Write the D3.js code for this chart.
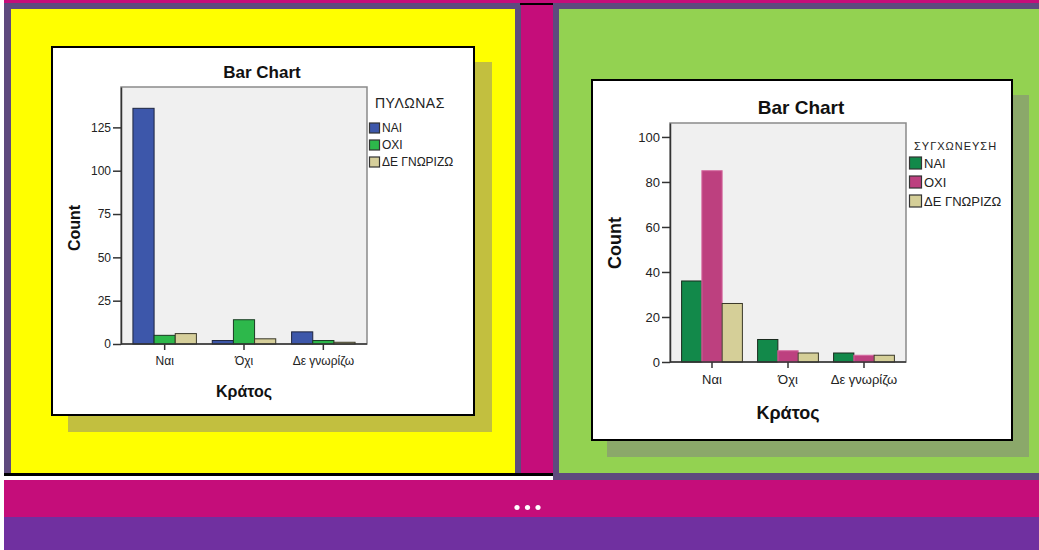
<!DOCTYPE html>
<html>
<head>
<meta charset="utf-8">
<script src="https://cdn.jsdelivr.net/npm/d3@7"></script>
<style>
body { margin: 0; background: #fff; }
svg { display: block; font-family: "Liberation Sans", Arial, sans-serif; }
</style>
</head>
<body>
<script>
// categories on the x axis (Κράτος)
var categories = ["Ναι", "Όχι", "Δε γνωρίζω"];
var seriesNames = ["ΝΑΙ", "ΟΧΙ", "ΔΕ ΓΝΩΡΙΖΩ"];

// left chart: ΠΥΛΩΝΑΣ
var pylonasNai = [136, 2, 7];
var pylonasOxi = [5, 14, 2];
var pylonasDe = [6, 3, 1];
var pylonasTicks = [0, 25, 50, 75, 100, 125];

// right chart: ΣΥΓΧΩΝΕΥΣΗ
var sygxNai = [36, 10, 4];
var sygxOxi = [85, 5, 3];
var sygxDe = [26, 4, 3];
var sygxTicks = [0, 20, 40, 60, 80, 100];

var width = 1039, height = 550;
var svg = d3.select("body").append("svg").attr("width", width).attr("height", height);

// page frame
function box(x, y, w, h, fill) {
  svg.append("rect").attr("x", x).attr("y", y).attr("width", w).attr("height", h).attr("fill", fill);
}
box(4, 0, 1035, 3, "#c50d7a");
box(4, 3, 1035, 6, "#5e4a7e");
box(4, 9, 7, 464, "#5e4a7e");
box(11, 9, 504, 464, "#ffff00");
box(515, 9, 6, 464, "#5e4a7e");
box(521, 5, 32, 468, "#c50d7a");
box(520, 3, 33, 2, "#000");
box(553, 9, 6, 471, "#5e4a7e");
box(559, 9, 480, 464, "#93d251");
box(553, 473, 486, 7, "#5e4a7e");
box(4, 473, 549, 3, "#000");
box(4, 480, 1035, 37, "#c50d7a");
box(4, 517, 1035, 33, "#7030a0");
svg.append("g").selectAll("circle").data([517, 527.5, 538]).enter().append("circle")
  .attr("cx", function(d) { return d; }).attr("cy", 507.5).attr("r", 2.6).attr("fill", "#fff");

function drawChart(o) {
  // shadow + white card
  box(o.x + o.shadow[0], o.y + o.shadow[1], o.w, o.h, o.shadowColor);
  svg.append("rect").attr("x", o.x + 1).attr("y", o.y + 1).attr("width", o.w - 2).attr("height", o.h - 2)
    .attr("fill", "#fff").attr("stroke", "#000").attr("stroke-width", 2);

  var g = svg.append("g");
  var x0 = o.plot[0], x1 = o.plot[1], yTop = o.plot[2], yBot = o.plot[3];

  g.append("rect").attr("x", x0).attr("y", yTop).attr("width", x1 - x0).attr("height", yBot - yTop)
    .attr("fill", "#f0f0f0").attr("stroke", "#8a8a8a").attr("stroke-width", 1.5);

  var y = d3.scaleLinear().domain([0, o.yMax]).range([yBot, yTop]);
  var xb = d3.scaleBand().domain(categories).range([x0 + 4, x1 - 4]).paddingInner(0.2).paddingOuter(0.1);
  var xs = d3.scaleBand().domain(seriesNames).range([0, xb.bandwidth()]);

  var series = seriesNames.map(function(name, i) {
    return { name: name, values: o.values[i], color: o.colors[i], stroke: o.strokes[i] };
  });

  series.forEach(function(s) {
    g.append("g").selectAll("rect").data(categories).enter().append("rect")
      .attr("x", function(d) { return xb(d) + xs(s.name); })
      .attr("y", function(d, i) { return y(s.values[i]); })
      .attr("width", xs.bandwidth())
      .attr("height", function(d, i) { return yBot - y(s.values[i]); })
      .attr("fill", s.color)
      .attr("stroke", s.stroke)
      .attr("stroke-width", 1);
  });

  var yAxis = d3.axisLeft(y).tickValues(o.ticks).tickSize(8).tickPadding(2).tickSizeOuter(0);
  var ya = g.append("g").attr("transform", "translate(" + x0 + ",0)").call(yAxis);
  ya.select(".domain").attr("stroke", "#333").attr("stroke-width", 1.5);
  ya.selectAll(".tick line").attr("stroke", "#333").attr("stroke-width", 1.5);
  ya.selectAll("text").attr("fill", "#222").style("font-size", o.tickFont + "px");

  var xAxis = d3.axisBottom(xb).tickSize(6).tickPadding(o.xPad).tickSizeOuter(0);
  var xa = g.append("g").attr("transform", "translate(0," + yBot + ")").call(xAxis);
  xa.select(".domain").attr("stroke", "#333").attr("stroke-width", 1.5).attr("d", "M" + x0 + ",0H" + x1);
  xa.selectAll(".tick line").attr("stroke", "#333").attr("stroke-width", 1.5);
  xa.selectAll("text").attr("fill", "#222").style("font-size", o.tickFont + "px");

  g.append("text").attr("x", o.titlePos[0]).attr("y", o.titlePos[1]).attr("text-anchor", "middle")
    .style("font-size", o.titleFont + "px").style("font-weight", "bold").attr("fill", "#111").text("Bar Chart");
  g.append("text").attr("x", o.xTitlePos[0]).attr("y", o.xTitlePos[1]).attr("text-anchor", "middle")
    .style("font-size", o.axisFont + "px").style("font-weight", "bold").attr("fill", "#111").text("Κράτος");
  g.append("text").attr("transform", "translate(" + o.yTitlePos[0] + "," + o.yTitlePos[1] + ") rotate(-90)")
    .attr("text-anchor", "middle").style("font-size", o.axisFont + "px").style("font-weight", "bold")
    .attr("fill", "#111").text("Count");

  // legend
  var lg = g.append("g").attr("transform", "translate(" + o.legend[0] + "," + o.legend[1] + ")");
  lg.append("text").attr("x", o.legendTitleDx).attr("y", 0).style("font-size", o.legendTitleFont + "px")
    .style("letter-spacing", o.legendSpacing + "px").attr("fill", "#222").text(o.legendTitle);
  var items = lg.selectAll(".item").data(series).enter().append("g")
    .attr("transform", function(d, i) { return "translate(0," + (o.legendGap0 + i * o.legendStep) + ")"; });
  items.append("rect").attr("x", 0.5).attr("y", -o.sw / 2).attr("width", o.sw).attr("height", o.sw)
    .attr("fill", function(d) { return d.color; }).attr("stroke", "#333").attr("stroke-width", 1.2);
  items.append("text").attr("x", o.sw + 3).attr("y", 0).attr("dy", "0.36em")
    .style("font-size", o.legendFont + "px").attr("fill", "#222").text(function(d) { return d.name; });
}

drawChart({
  x: 51, y: 46, w: 424, h: 370, shadow: [17, 16], shadowColor: "#c2bf3f",
  plot: [121, 367, 87, 344], yMax: 148.3, ticks: pylonasTicks,
  values: [pylonasNai, pylonasOxi, pylonasDe],
  colors: ["#3d57aa", "#2db84b", "#d6cf9b"], strokes: ["#1e2540", "#1a3a22", "#3a3828"],
  tickFont: 12, xPad: 6, titleFont: 17, titlePos: [262, 78], axisFont: 16,
  xTitlePos: [244, 397], yTitlePos: [80, 228],
  legend: [369, 108], legendTitle: "ΠΥΛΩΝΑΣ", legendTitleDx: 6, legendTitleFont: 14, legendSpacing: 0.5,
  legendGap0: 20, legendStep: 17, sw: 10, legendFont: 12
});

drawChart({
  x: 591, y: 79, w: 422, h: 362, shadow: [16, 16], shadowColor: "#8ba86a",
  plot: [670, 906, 123, 362], yMax: 106.2, ticks: sygxTicks,
  values: [sygxNai, sygxOxi, sygxDe],
  colors: ["#12894a", "#bd407f", "#d5cf98"], strokes: ["#1a2a1e", "#d56aa0", "#3a3828"],
  tickFont: 13, xPad: 7, titleFont: 19, titlePos: [801, 114], axisFont: 18,
  xTitlePos: [788, 419], yTitlePos: [621, 243],
  legend: [909, 150], legendTitle: "ΣΥΓΧΩΝΕΥΣΗ", legendTitleDx: 5, legendTitleFont: 11, legendSpacing: 1,
  legendGap0: 13, legendStep: 19, sw: 12, legendFont: 13
});
</script>
</body>
</html>
